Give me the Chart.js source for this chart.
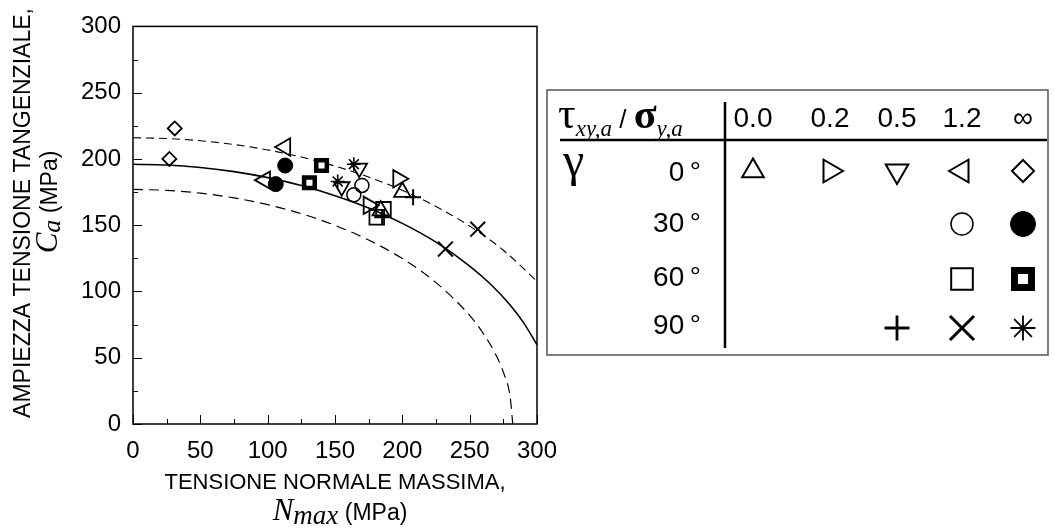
<!DOCTYPE html>
<html>
<head>
<meta charset="utf-8">
<script src="https://cdn.jsdelivr.net/npm/chart.js@4.4.1/dist/chart.umd.min.js"></script>
<style>
  html, body { margin: 0; padding: 0; background: #fff; }
</style>
</head>
<body>
<canvas id="chart" width="1055" height="531"></canvas>
<script>
const SANS = "'Liberation Sans', Arial, Helvetica, sans-serif";
const SERIF = "'Liberation Serif', 'Times New Roman', serif";

// legend table labels
const ratioLabels = ['0.0', '0.2', '0.5', '1.2', '\u221E'];
const gammaLabels = ['0', '30', '60', '90'];

// axis range / ticks (MPa)
const axisMax = 300;
const majorStep = 50;
const minorStep = 25;

// test points, gamma = 0 deg
const g0r00x = [200, 184], g0r00y = [175, 161];   // tau/sigma = 0.0
const g0r02x = [197, 175], g0r02y = [185, 165];   // 0.2
const g0r05x = [168, 155], g0r05y = [193, 179];   // 0.5
const g0r12x = [113, 98],  g0r12y = [209, 184];   // 1.2
const g0rInfx = [31, 27],  g0rInfy = [223, 200];  // inf
// gamma = 30 deg
const g30r12x = [170, 164],  g30r12y = [180, 173];
const g30rInfx = [113, 106], g30rInfy = [195, 181];
// gamma = 60 deg
const g60r12x = [186, 181],  g60r12y = [162, 156];
const g60rInfx = [140, 131], g60rInfy = [195, 182];
// gamma = 90 deg
const g90r05x = [208, 185],  g90r05y = [171, 156];
const g90r12x = [232, 256],  g90r12y = [132, 147];
const g90rInfx = [164, 152], g90rInfy = [196, 183];

// curves
const meanX  = [0, 25, 50, 75, 100, 125, 150, 175, 200, 225, 250, 265, 280, 290, 300];
const meanY  = [196, 195.4, 193.5, 190.4, 185.9, 179.9, 172.3, 163.0, 151.4, 137.2, 119.2, 106.0, 89.8, 76.5, 59.8];
const upperX = [0, 25, 50, 75, 100, 125, 150, 175, 200, 225, 250, 275, 300];
const upperY = [216, 215.4, 213.7, 210.9, 206.8, 201.4, 194.6, 186.3, 176.3, 164.1, 149.3, 131.1, 107.6];
const lowerX = [0, 25, 50, 75, 100, 125, 150, 175, 200, 225, 250, 260, 270, 276, 280, 282];
const lowerY = [177, 176.3, 174.2, 170.6, 165.5, 158.7, 149.9, 138.8, 124.8, 106.7, 81.9, 68.5, 51.1, 36.3, 21.0, 0];

function pts(xs, ys) {
  return xs.map((x, i) => ({ x: x, y: ys[i] }));
}

// marker look: style, rotation, plot radius, legend radius, line widths
const series = [
  { xs: g0r00x,  ys: g0r00y,  row: 0, col: 0, style: 'triangle', rot: 0,   r: 9.5, lr: 12.5, lw: 1.8, llw: 2 },
  { xs: g0r02x,  ys: g0r02y,  row: 0, col: 1, style: 'triangle', rot: 90,  r: 10,  lr: 13,   lw: 1.8, llw: 2 },
  { xs: g0r05x,  ys: g0r05y,  row: 0, col: 2, style: 'triangle', rot: 180, r: 9,   lr: 13,   lw: 1.8, llw: 2 },
  { xs: g0r12x,  ys: g0r12y,  row: 0, col: 3, style: 'triangle', rot: 270, r: 10,  lr: 13,   lw: 1.8, llw: 2 },
  { xs: g0rInfx, ys: g0rInfy, row: 0, col: 4, style: 'rectRot',  rot: 0,   r: 7,   lr: 11,   lw: 1.8, llw: 2 },
  { xs: g30r12x, ys: g30r12y, row: 1, col: 3, style: 'circle',   rot: 0,   r: 7,   lr: 11,   lw: 1.5, llw: 1.5 },
  { xs: g30rInfx, ys: g30rInfy, row: 1, col: 4, style: 'circle', rot: 0,   r: 7.5, lr: 12.5, lw: 1,   llw: 1, filled: true },
  { xs: g60r12x, ys: g60r12y, row: 2, col: 3, style: 'rect',     rot: 0,   r: 10.3, lr: 15.3, lw: 1.8, llw: 2 },
  { xs: g60rInfx, ys: g60rInfy, row: 2, col: 4, style: 'rect',   rot: 0,   r: 7.5, lr: 12,   lw: 4.5, llw: 7, bold: true },
  { xs: g90r05x, ys: g90r05y, row: 3, col: 2, style: 'cross',    rot: 0,   r: 8,   lr: 12.5, lw: 2,   llw: 2.8 },
  { xs: g90r12x, ys: g90r12y, row: 3, col: 3, style: 'crossRot', rot: 0,   r: 10.5, lr: 17,  lw: 2,   llw: 3 },
  { xs: g90rInfx, ys: g90rInfy, row: 3, col: 4, style: 'star',   rot: 0,   r: 7,   lr: 12.5, lw: 1.6, llw: 1.8 }
];

const datasets = [];
datasets.push({ data: pts(meanX, meanY), showLine: true, borderColor: '#000', borderWidth: 1.6,
  pointRadius: 0, cubicInterpolationMode: 'monotone', order: 5 });
datasets.push({ data: pts(upperX, upperY), showLine: true, borderColor: '#000', borderWidth: 1.1,
  borderDash: [8, 5], pointRadius: 0, cubicInterpolationMode: 'monotone', order: 5 });
datasets.push({ data: pts(lowerX, lowerY), showLine: true, borderColor: '#000', borderWidth: 1.2,
  borderDash: [10, 6], pointRadius: 0, cubicInterpolationMode: 'monotone', order: 5 });
series.forEach(s => {
  datasets.push({
    data: pts(s.xs, s.ys),
    showLine: false,
    pointStyle: s.style,
    pointRotation: s.rot,
    pointRadius: s.r,
    pointBorderWidth: s.lw,
    pointBorderColor: '#000',
    pointBackgroundColor: s.filled ? '#000' : (s.bold ? '#fff' : 'rgba(0,0,0,0)'),
    order: 1
  });
});

// own symbol drawing for the legend table
function drawSymbol(ctx, s, x, y) {
  const r = s.lr;
  ctx.save();
  ctx.lineWidth = s.llw;
  ctx.strokeStyle = '#000';
  ctx.fillStyle = s.filled ? '#000' : '#fff';
  ctx.beginPath();
  let rad = s.rot * Math.PI / 180;
  if (s.style === 'triangle') {
    for (let k = 0; k < 3; k++) {
      const a = rad + k * 2 * Math.PI / 3;
      const px = x + Math.sin(a) * r, py = y - Math.cos(a) * r;
      if (k === 0) ctx.moveTo(px, py); else ctx.lineTo(px, py);
    }
    ctx.closePath();
    ctx.stroke();
  } else if (s.style === 'circle') {
    ctx.arc(x, y, r, 0, Math.PI * 2);
    if (s.filled) ctx.fill();
    ctx.stroke();
  } else if (s.style === 'rect') {
    const h = r * Math.SQRT1_2;
    ctx.rect(x - h, y - h, 2 * h, 2 * h);
    ctx.fill();
    ctx.stroke();
  } else if (s.style === 'rectRot') {
    ctx.moveTo(x - r, y); ctx.lineTo(x, y - r); ctx.lineTo(x + r, y); ctx.lineTo(x, y + r);
    ctx.closePath();
    ctx.stroke();
  } else {
    const arms = s.style === 'cross' ? [0] : s.style === 'crossRot' ? [Math.PI / 4] : [0, Math.PI / 4];
    arms.forEach(off => {
      const c = Math.cos(off) * r, sn = Math.sin(off) * r;
      ctx.moveTo(x - sn, y - c); ctx.lineTo(x + sn, y + c);
      ctx.moveTo(x - c, y + sn); ctx.lineTo(x + c, y - sn);
    });
    ctx.stroke();
  }
  ctx.restore();
}

// text made of runs with different fonts
function drawRuns(ctx, runs, x, y, align) {
  let w = 0;
  runs.forEach(r => { ctx.font = r.font; w += ctx.measureText(r.text).width; });
  let cx = align === 'center' ? x - w / 2 : (align === 'right' ? x - w : x);
  ctx.textAlign = 'left';
  ctx.textBaseline = 'alphabetic';
  runs.forEach(r => {
    ctx.font = r.font;
    ctx.fillText(r.text, cx, y + (r.dy || 0));
    cx += ctx.measureText(r.text).width;
  });
}

const figurePlugin = {
  id: 'figure',
  beforeDatasetsDraw(chart) {
    const { ctx, chartArea: a, scales } = chart;
    ctx.save();
    ctx.strokeStyle = '#000';
    ctx.lineWidth = 1;
    ctx.beginPath();
    for (let v = 0; v <= axisMax; v += minorStep) {
      const len = v % majorStep === 0 ? 9 : 5;
      const px = Math.round(scales.x.getPixelForValue(v)) + 0.5;
      ctx.moveTo(px, a.bottom); ctx.lineTo(px, a.bottom - len);
      const py = Math.round(scales.y.getPixelForValue(v)) + 0.5;
      ctx.moveTo(a.left, py); ctx.lineTo(a.left + len, py);
    }
    ctx.stroke();
    ctx.lineWidth = 1.5;
    ctx.strokeRect(a.left, a.top, a.right - a.left, a.bottom - a.top);
    ctx.restore();
  },
  afterDraw(chart) {
    const ctx = chart.ctx;
    ctx.save();
    ctx.fillStyle = '#000';

    // y axis title (two lines, rotated)
    ctx.save();
    ctx.translate(30, 213);
    ctx.rotate(-Math.PI / 2);
    drawRuns(ctx, [{ text: 'AMPIEZZA TENSIONE TANGENZIALE,', font: '23px ' + SANS }], 0, 0, 'center');
    ctx.restore();
    ctx.save();
    ctx.translate(57, 202);
    ctx.rotate(-Math.PI / 2);
    drawRuns(ctx, [
      { text: 'C', font: 'italic 31px ' + SERIF },
      { text: 'a', font: 'italic 26px ' + SERIF, dy: 3 },
      { text: ' (MPa)', font: '23px ' + SANS }
    ], 0, 0, 'center');
    ctx.restore();

    // x axis title
    drawRuns(ctx, [{ text: 'TENSIONE NORMALE MASSIMA,', font: '22px ' + SANS }], 335, 489, 'center');
    drawRuns(ctx, [
      { text: 'N', font: 'italic 31px ' + SERIF },
      { text: 'max', font: 'italic 27px ' + SERIF, dy: 4 },
      { text: ' (MPa)', font: '23px ' + SANS }
    ], 340, 520, 'center');

    // legend table
    ctx.strokeStyle = '#555';
    ctx.lineWidth = 1.5;
    ctx.strokeRect(547, 90, 501, 265);
    ctx.strokeStyle = '#000';
    ctx.lineWidth = 2.5;
    ctx.beginPath();
    ctx.moveTo(560, 140); ctx.lineTo(1047, 140);
    ctx.moveTo(725, 102); ctx.lineTo(725, 348);
    ctx.stroke();

    drawRuns(ctx, [
      { text: '\u03C4', font: '44px ' + SERIF },
      { text: 'xy,a', font: 'italic 23px ' + SERIF, dy: 8 },
      { text: ' / ', font: '26px ' + SANS },
      { text: '\u03C3', font: 'bold 42px ' + SERIF },
      { text: 'y,a', font: 'italic 23px ' + SERIF, dy: 8 }
    ], 558, 128, 'left');

    const colX = [753, 830, 897, 962, 1023];
    const rowY = [171, 224, 279, 328];
    const rowBase = [181, 232, 286, 334];
    ctx.textAlign = 'center';
    ctx.textBaseline = 'alphabetic';
    ctx.font = '28px ' + SANS;
    ratioLabels.forEach((t, i) => ctx.fillText(t, colX[i], 127));
    ctx.textAlign = 'right';
    gammaLabels.forEach((t, i) => ctx.fillText(t + '\u2009\u00B0', 701, rowBase[i]));
    ctx.textAlign = 'left';
    ctx.font = '48px ' + SERIF;
    ctx.fillText('\u03B3', 563, 176);

    series.forEach(s => drawSymbol(ctx, s, colX[s.col], rowY[s.row]));
    ctx.restore();
  }
};

Chart.defaults.color = '#000';
Chart.defaults.font.family = SANS;

new Chart(document.getElementById('chart'), {
  type: 'scatter',
  data: { datasets: datasets },
  plugins: [figurePlugin],
  options: {
    responsive: false,
    animation: false,
    events: [],
    layout: { padding: { left: 0, top: 21, right: 518, bottom: 0 } },
    plugins: { legend: { display: false }, tooltip: { enabled: false } },
    scales: {
      x: {
        type: 'linear', min: 0, max: axisMax,
        grid: { display: false, drawTicks: false },
        border: { display: false },
        ticks: { stepSize: majorStep, padding: 13, font: { size: 24 }, maxRotation: 0 },
        afterFit(scale) { scale.height = 107; }
      },
      y: {
        type: 'linear', min: 0, max: axisMax,
        grid: { display: false, drawTicks: false },
        border: { display: false },
        ticks: { stepSize: majorStep, padding: 12, font: { size: 24 } },
        afterFit(scale) { scale.width = 133; }
      }
    }
  }
});
</script>
</body>
</html>
